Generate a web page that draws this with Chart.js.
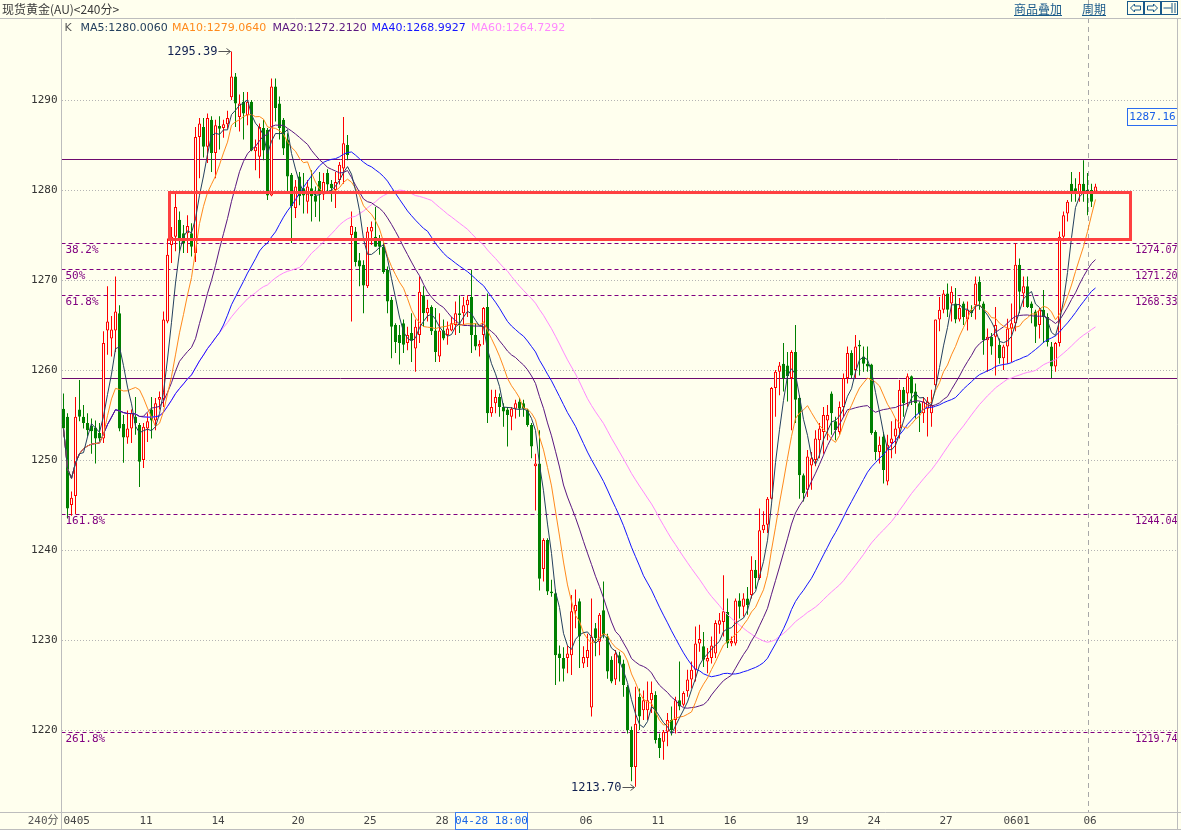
<!DOCTYPE html>
<html>
<head>
<meta charset="utf-8">
<script src="https://cdn.jsdelivr.net/npm/chart.js@4.4.1/dist/chart.umd.min.js"></script>
<style>
  html, body { margin: 0; padding: 0; background: #ffffee; overflow: hidden; }
  canvas { display: block; }
</style>
</head>
<body>
<canvas id="kline" width="1181" height="830"></canvas>
<script>
// 240分 K线, 每根 [开, 高, 低, 收]
const candles = [
  [1255.7,1257.4,1252.6,1253.5],[1254.8,1255.2,1243.5,1244.6],[1245.0,1246.5,1243.8,1245.8],[1246.0,1257.0,1244.0,1254.8],
  [1255.6,1258.9,1254.3,1254.8],[1254.8,1256.1,1253.5,1254.1],[1254.1,1255.2,1252.6,1253.3],[1253.8,1254.6,1250.7,1253.2],
  [1253.6,1254.4,1249.6,1252.4],[1253.0,1254.1,1252.0,1252.4],[1252.4,1264.3,1251.9,1263.0],[1264.4,1269.3,1261.7,1265.4],
  [1263.5,1266.0,1261.5,1264.5],[1264.4,1270.4,1262.0,1266.5],[1266.3,1267.2,1253.2,1253.5],[1254.0,1255.0,1249.7,1252.5],
  [1252.5,1255.5,1251.8,1253.5],[1253.5,1255.6,1251.9,1255.2],[1254.8,1257.0,1252.8,1254.1],[1253.9,1254.1,1247.0,1249.8],
  [1250.0,1254.1,1249.1,1253.7],[1253.5,1255.2,1252.0,1254.3],[1255.6,1257.0,1252.4,1254.4],[1254.4,1256.9,1253.3,1256.3],
  [1256.7,1257.6,1255.6,1257.0],[1256.8,1266.5,1255.9,1265.6],[1265.4,1274.6,1265.2,1272.8],[1273.9,1275.9,1271.9,1274.8],
  [1274.8,1279.8,1273.2,1278.1],[1276.7,1277.6,1273.0,1274.3],[1275.2,1276.1,1273.0,1274.1],[1275.2,1277.2,1273.0,1276.0],
  [1275.2,1276.3,1272.6,1273.7],[1273.0,1287.0,1272.0,1285.9],[1285.9,1288.0,1281.3,1287.4],[1287.0,1288.0,1283.6,1284.8],
  [1284.8,1288.5,1283.0,1288.0],[1287.8,1288.2,1282.0,1284.1],[1284.1,1287.8,1281.3,1287.2],[1287.1,1288.2,1284.5,1286.8],
  [1286.9,1287.8,1285.8,1287.3],[1287.3,1288.8,1286.8,1288.0],[1290.3,1295.39,1290.0,1292.6],[1292.6,1293.0,1287.0,1289.6],
  [1288.1,1290.6,1286.5,1289.6],[1289.8,1290.9,1285.6,1288.5],[1288.3,1290.9,1287.2,1289.8],[1289.8,1290.0,1284.3,1284.4],
  [1284.3,1285.6,1282.2,1284.8],[1283.7,1287.4,1281.3,1287.0],[1286.9,1287.8,1283.3,1284.4],[1286.7,1286.9,1278.9,1279.4],
  [1279.4,1292.4,1279.3,1291.5],[1291.5,1292.4,1287.6,1289.1],[1289.6,1290.4,1285.6,1286.9],[1287.8,1288.0,1283.9,1284.6],
  [1285.6,1286.3,1279.8,1281.5],[1281.7,1281.9,1274.1,1278.2],[1278.0,1281.1,1276.9,1280.4],[1281.5,1282.0,1278.3,1279.3],
  [1280.2,1281.9,1277.4,1279.4],[1278.7,1281.1,1277.4,1280.4],[1280.2,1282.2,1276.5,1279.3],[1279.4,1280.4,1277.0,1278.7],
  [1281.0,1282.0,1276.5,1279.5],[1279.5,1281.9,1278.9,1280.9],[1281.9,1282.3,1279.6,1280.6],[1280.7,1281.1,1278.7,1280.2],
  [1280.0,1282.0,1278.0,1280.9],[1281.1,1283.1,1280.6,1282.8],[1282.4,1288.1,1280.7,1285.2],[1285.0,1286.1,1283.3,1283.9],
  [1275.0,1277.6,1265.4,1276.0],[1275.4,1275.9,1271.5,1272.0],[1272.2,1273.0,1269.3,1271.5],[1271.7,1272.2,1266.3,1269.4],
  [1269.3,1275.9,1269.1,1275.4],[1275.4,1276.5,1273.9,1275.9],[1274.8,1278.1,1273.7,1273.7],[1274.4,1275.0,1272.8,1273.7],
  [1273.7,1274.1,1270.7,1270.9],[1271.1,1271.5,1266.3,1267.6],[1267.8,1268.1,1261.3,1264.8],[1265.0,1265.2,1261.9,1263.1],
  [1263.9,1265.0,1260.6,1263.0],[1265.2,1265.6,1261.9,1262.8],[1263.0,1264.8,1262.2,1263.9],[1264.1,1266.3,1260.9,1263.3],
  [1262.4,1265.6,1259.8,1264.8],[1263.9,1270.4,1263.0,1268.7],[1268.3,1269.3,1264.8,1266.3],[1266.3,1267.8,1265.4,1266.9],
  [1267.0,1267.2,1263.9,1264.3],[1264.4,1266.9,1260.9,1262.0],[1261.5,1266.3,1260.9,1264.4],[1264.4,1265.6,1263.3,1263.5],
  [1263.9,1265.4,1262.8,1264.6],[1264.4,1265.9,1264.3,1265.2],[1265.0,1267.6,1263.9,1266.3],[1266.3,1268.3,1264.1,1266.1],
  [1266.3,1268.1,1265.0,1267.2],[1267.2,1268.3,1265.9,1267.8],[1268.1,1271.1,1261.9,1263.9],[1263.9,1265.2,1262.2,1262.6],
  [1262.6,1263.3,1261.5,1262.9],[1263.9,1267.0,1262.8,1266.9],[1267.0,1268.5,1254.1,1255.2],[1255.2,1257.8,1254.8,1255.9],
  [1256.3,1257.8,1255.2,1257.0],[1257.0,1257.4,1254.8,1255.9],[1255.9,1256.3,1253.7,1255.4],[1255.6,1255.9,1251.5,1255.0],
  [1254.8,1255.9,1253.3,1255.7],[1255.7,1256.7,1254.6,1256.3],[1256.5,1256.9,1254.8,1255.7],[1256.3,1256.7,1254.8,1255.7],
  [1255.6,1255.7,1253.7,1253.9],[1253.9,1254.1,1250.2,1251.5],[1249.3,1250.7,1244.4,1249.6],[1249.6,1253.3,1235.5,1236.8],
  [1237.9,1241.3,1236.5,1241.1],[1241.1,1241.3,1235.0,1235.4],[1235.4,1236.7,1234.8,1235.2],[1235.2,1235.6,1225.0,1228.3],
  [1228.5,1229.4,1225.4,1228.0],[1228.0,1229.2,1225.4,1226.8],[1228.0,1229.4,1226.3,1228.5],[1228.3,1235.0,1226.1,1233.2],
  [1233.2,1235.6,1231.3,1233.9],[1234.3,1234.6,1226.9,1230.4],[1227.4,1229.3,1226.9,1228.1],[1228.0,1230.7,1227.0,1228.9],
  [1222.5,1234.6,1221.5,1230.4],[1231.3,1231.9,1228.2,1230.2],[1229.8,1233.0,1228.3,1232.8],[1233.3,1236.5,1230.2,1230.6],
  [1230.4,1230.7,1225.7,1226.5],[1227.8,1228.2,1225.2,1225.4],[1225.6,1228.9,1225.0,1228.5],[1228.3,1228.7,1225.4,1227.4],
  [1227.4,1227.8,1223.7,1225.0],[1224.8,1225.0,1219.6,1220.0],[1220.0,1220.4,1214.3,1215.9],[1215.9,1224.8,1213.7,1220.7],
  [1223.7,1224.6,1220.0,1221.5],[1222.2,1224.4,1221.1,1223.3],[1222.2,1225.4,1221.1,1223.3],[1223.3,1225.4,1221.9,1224.1],
  [1223.9,1224.3,1218.5,1218.9],[1219.1,1219.6,1216.9,1218.0],[1218.7,1220.0,1216.7,1219.8],[1219.8,1221.9,1218.2,1221.1],
  [1221.1,1222.6,1219.4,1220.0],[1221.1,1223.7,1219.6,1223.3],[1223.3,1227.6,1222.2,1222.6],[1222.8,1224.3,1222.6,1224.1],
  [1224.3,1226.7,1223.7,1225.6],[1225.6,1227.6,1224.6,1226.7],[1226.7,1231.5,1225.4,1229.6],[1229.6,1231.7,1228.7,1230.1],
  [1229.3,1230.9,1227.0,1227.8],[1227.6,1229.1,1226.3,1228.0],[1228.0,1230.4,1227.4,1229.4],[1228.5,1232.2,1228.0,1231.9],
  [1231.7,1233.0,1230.7,1232.2],[1232.0,1237.2,1230.4,1233.2],[1233.1,1234.6,1229.1,1229.6],[1229.6,1230.4,1229.3,1229.9],
  [1229.6,1234.6,1229.4,1234.4],[1234.4,1235.2,1232.4,1233.7],[1233.7,1235.2,1232.6,1234.6],[1234.6,1235.9,1232.8,1233.9],
  [1235.0,1239.3,1234.6,1237.8],[1237.8,1238.9,1235.7,1236.9],[1236.9,1244.6,1236.7,1242.2],[1242.2,1244.3,1241.9,1242.8],
  [1242.8,1245.9,1241.9,1245.7],[1245.7,1258.1,1245.6,1258.0],[1258.0,1260.0,1254.8,1259.8],[1259.8,1260.9,1257.2,1260.5],
  [1260.7,1263.0,1257.6,1259.1],[1260.5,1262.0,1256.5,1259.3],[1259.1,1262.2,1253.3,1262.0],[1262.0,1265.0,1254.1,1256.7],
  [1256.9,1257.2,1245.7,1248.3],[1248.3,1248.5,1245.4,1246.3],[1246.7,1251.1,1245.9,1250.4],[1249.4,1250.9,1246.7,1250.2],
  [1250.0,1253.3,1249.3,1252.4],[1252.2,1254.1,1250.2,1253.5],[1253.1,1255.9,1250.7,1255.0],[1254.4,1256.1,1252.2,1255.0],
  [1257.4,1257.6,1252.8,1255.2],[1254.3,1254.8,1252.2,1253.3],[1253.1,1256.5,1252.8,1255.9],[1255.9,1259.6,1254.8,1259.1],
  [1259.1,1262.6,1258.5,1261.9],[1261.9,1262.2,1259.1,1259.4],[1260.0,1263.9,1259.1,1262.6],[1262.8,1263.3,1259.4,1262.6],
  [1261.5,1262.6,1259.8,1260.7],[1260.7,1262.6,1259.8,1260.4],[1260.6,1260.7,1252.8,1253.0],[1253.1,1253.3,1250.0,1250.9],
  [1250.9,1252.6,1249.6,1251.7],[1252.6,1253.1,1247.4,1248.9],[1247.6,1252.8,1247.2,1251.7],[1251.9,1254.3,1250.2,1252.4],
  [1252.6,1254.6,1250.7,1253.5],[1253.5,1258.9,1252.4,1257.8],[1257.8,1258.1,1254.8,1256.3],[1257.4,1259.6,1255.9,1259.3],
  [1259.3,1259.4,1256.1,1257.4],[1257.6,1258.5,1254.6,1256.3],[1256.3,1256.5,1253.1,1255.2],[1255.2,1257.0,1254.1,1256.5],
  [1255.7,1257.0,1252.6,1256.5],[1255.2,1257.8,1253.7,1256.1],[1258.3,1265.6,1258.1,1265.6],[1265.6,1268.1,1264.3,1266.7],
  [1266.7,1268.9,1266.3,1268.5],[1268.5,1269.6,1265.9,1266.7],[1267.4,1269.3,1265.4,1268.7],[1267.4,1269.1,1265.2,1265.6],
  [1265.6,1268.0,1265.4,1266.9],[1267.4,1267.6,1265.0,1265.9],[1265.6,1267.6,1264.4,1266.7],[1266.7,1267.2,1265.9,1266.3],
  [1267.2,1270.4,1265.6,1269.6],[1269.8,1270.4,1266.7,1267.6],[1267.4,1267.6,1261.7,1263.3],[1263.3,1264.6,1259.8,1263.7],
  [1263.7,1264.1,1261.7,1262.6],[1263.7,1267.0,1259.4,1265.0],[1262.8,1263.5,1260.7,1261.3],[1261.3,1262.8,1260.0,1262.6],
  [1262.6,1265.7,1260.7,1264.6],[1264.6,1267.4,1260.9,1265.2],[1265.2,1274.1,1264.3,1271.7],[1271.7,1272.4,1266.3,1268.7],
  [1268.5,1270.4,1267.0,1269.3],[1269.3,1270.4,1266.9,1267.0],[1267.4,1267.6,1265.2,1266.9],[1266.5,1266.7,1263.0,1264.8],
  [1265.0,1266.9,1263.5,1266.7],[1266.7,1268.9,1263.0,1265.9],[1265.9,1266.3,1262.6,1263.1],[1262.6,1263.1,1259.1,1260.4],
  [1260.4,1263.1,1259.8,1263.0],[1263.0,1275.4,1262.6,1274.8],[1274.8,1277.6,1274.3,1277.2],[1277.4,1278.9,1276.5,1278.7],
  [1280.7,1282.0,1278.7,1279.8],[1280.2,1281.3,1278.7,1279.8],[1279.6,1282.0,1278.7,1280.7],[1280.7,1283.3,1278.7,1279.6],
  [1280.0,1281.9,1277.2,1279.8],[1280.0,1280.7,1278.1,1278.7],[1279.8,1280.7,1279.6,1280.4]
];

// 横轴: 共 279 个位置, 日期标签所在位置
const slotCount = 279;
const dayTickIdx  = [0, 19, 37, 57, 75, 93, 129, 147, 165, 183, 201, 219, 235, 255];
const dayTickText = ['0405', '11', '14', '20', '25', '28', '06', '11', '16', '19', '24', '27', '0601', '06'];

// 均线
const maPeriods = [5, 10, 20, 40, 60];
const maNames   = ['MA5', 'MA10', 'MA20', 'MA40', 'MA60'];
const maLast    = ['1280.0060', '1279.0640', '1272.2120', '1268.9927', '1264.7292'];
const maColors  = ['#24405e', '#ff8a1c', '#5a1780', '#1414ff', '#ff88ff'];

// 黄金分割线
const fibLevels = [1274.07, 1271.20, 1268.33, 1244.04, 1219.74];
const fibNames  = ['38.2%', '50%', '61.8%', '161.8%', '261.8%'];
const fibText   = ['1274.07', '1271.20', '1268.33', '1244.04', '1219.74'];
// 水平线
const levelLines = [1283.4, 1259.1];
// 红框 (索引范围, 价格范围)
const boxIdx = [26.5, 266.75];
const boxPrice = [1279.72, 1274.5];
// 最高/最低标注
const hiMark = { idx: 42, val: 1295.39, text: '1295.39' };
const loMark = { idx: 143, val: 1213.70, text: '1213.70' };
const cursorIdx = 256;
const cursorPrice = 1287.16;

const BG = '#ffffee';
const UP = '#ff0000';
const DOWN = '#008000';

const closes = candles.map((d) => d[3]);
const labels = Array.from({ length: slotCount }, () => '');
dayTickIdx.forEach((i, k) => (labels[i] = dayTickText[k]));

function movingAvg(n) {
  return closes.map((_, i) => {
    const s = Math.max(0, i - n + 1);
    let t = 0;
    for (let k = s; k <= i; k++) t += closes[k];
    return t / (i - s + 1);
  });
}

const isUp = candles.map((d) => d[3] >= d[0]);
const bodies = candles.map(([o, h, l, c]) => {
  let lo = Math.min(o, c), hi = Math.max(o, c);
  if (hi - lo < 0.12) { const m = (hi + lo) / 2; lo = m - 0.06; hi = m + 0.06; }
  return [lo, hi];
});
const wicks = candles.map(([o, h, l, c]) => [l, h]);

const maSets = maPeriods.map((n, k) => ({
  type: 'line',
  label: maNames[k],
  data: movingAvg(n),
  borderColor: maColors[k],
  borderWidth: 1,
  pointRadius: 0,
  tension: 0,
  fill: false,
  order: 0,
}));

const mono = 'DejaVu Sans Mono, monospace';

const deco = {
  id: 'deco',
  beforeDraw(ch) {
    const c = ch.ctx;
    c.save();
    c.fillStyle = BG;
    c.fillRect(0, 0, ch.width, ch.height);
    c.restore();
  },
  beforeDatasetsDraw(ch) {
    const { ctx: c, chartArea: a, scales: { x, y } } = ch;
    c.save();
    c.lineWidth = 1;
    // 水平线
    c.strokeStyle = '#6e0a6e';
    levelLines.forEach((v) => {
      const py = Math.round(y.getPixelForValue(v)) + 0.5;
      c.beginPath(); c.moveTo(a.left, py); c.lineTo(a.right, py); c.stroke();
    });
    // 黄金分割
    c.strokeStyle = '#800080';
    c.setLineDash([4, 3]);
    fibLevels.forEach((v) => {
      const py = Math.round(y.getPixelForValue(v)) + 0.5;
      c.beginPath(); c.moveTo(a.left, py); c.lineTo(a.right, py); c.stroke();
    });
    // 光标竖线
    c.strokeStyle = '#a8a8a8';
    c.setLineDash([5, 4]);
    const vx = Math.round(x.getPixelForValue(cursorIdx)) + 0.5;
    c.beginPath(); c.moveTo(vx, 0); c.lineTo(vx, a.bottom); c.stroke();
    c.restore();
  },
  afterDraw(ch) {
    const { ctx: c, chartArea: a, scales: { x, y } } = ch;
    c.save();
    // 红框
    c.strokeStyle = '#ff4040';
    c.lineWidth = 3;
    const bx0 = x.getPixelForValue(boxIdx[0]), bx1 = x.getPixelForValue(boxIdx[1]);
    const by0 = y.getPixelForValue(boxPrice[0]), by1 = y.getPixelForValue(boxPrice[1]);
    c.strokeRect(bx0, by0, bx1 - bx0, by1 - by0);

    // 分割线文字
    c.fillStyle = '#800080';
    c.textBaseline = 'top';
    fibLevels.forEach((v, k) => {
      const py = Math.round(y.getPixelForValue(v));
      c.font = '11px ' + mono;
      c.textAlign = 'left';
      c.fillText(fibNames[k], a.left + 4, py + 2);
      c.font = '10px ' + mono;
      c.textAlign = 'right';
      c.fillText(fibText[k], a.right, py + 2);
    });

    // 最高/最低
    c.font = '12px ' + mono;
    c.textBaseline = 'middle';
    [hiMark, loMark].forEach((m) => {
      const px = x.getPixelForValue(m.idx);
      const py = Math.round(y.getPixelForValue(m.val)) + 0.5;
      c.strokeStyle = '#555';
      c.lineWidth = 1;
      c.beginPath(); c.moveTo(px - 13, py); c.lineTo(px - 1, py); c.stroke();
      c.beginPath(); c.moveTo(px - 5, py - 3); c.lineTo(px - 1, py); c.lineTo(px - 5, py + 3); c.stroke();
      c.fillStyle = '#102050';
      c.textAlign = 'right';
      c.fillText(m.text, px - 14, py);
    });

    // 光标价格框
    const cy = Math.round(y.getPixelForValue(cursorPrice));
    c.fillStyle = BG;
    c.fillRect(1127.5, cy - 17.5, 50, 17);
    c.strokeStyle = '#2a6cf0';
    c.lineWidth = 1;
    c.strokeRect(1127.5, cy - 17.5, 50, 17);
    c.fillStyle = '#1a60e8';
    c.font = '11px ' + mono;
    c.textAlign = 'center';
    c.fillText(cursorPrice.toFixed(2), 1152.5, cy - 8.5);

    // 边框
    c.strokeStyle = '#bdbdbd';
    c.beginPath();
    c.moveTo(0, 18.5); c.lineTo(ch.width, 18.5);
    c.moveTo(a.left, 18.5); c.lineTo(a.left, ch.height);
    c.moveTo(0, a.bottom + 0.5); c.lineTo(ch.width, a.bottom + 0.5);
    c.moveTo(0, ch.height - 0.5); c.lineTo(ch.width, ch.height - 0.5);
    c.moveTo(a.right, 18.5); c.lineTo(a.right, ch.height);
    c.stroke();

    // 底部时间框
    c.fillStyle = BG;
    c.fillRect(455.5, a.bottom + 1, 72, 17);
    c.strokeStyle = '#3c7cf0';
    c.strokeRect(455.5, a.bottom + 0.5, 72, 17);
    c.fillStyle = '#1a66e6';
    c.textAlign = 'center';
    c.fillText('04-28 18:00', 491.5, a.bottom + 9.5);

    c.fillStyle = '#555';
    c.textAlign = 'right';
    c.font = '11px DejaVu Sans Mono, Noto Sans CJK SC, monospace';
    c.fillText('240分', a.left - 3, a.bottom + 9.5);

    // 标题
    c.textAlign = 'left';
    c.fillStyle = '#3a3a3a';
    c.font = '12px Noto Sans CJK SC, sans-serif';
    c.fillText('现货黄金(AU)<240分>', 2, 9);

    // 均线说明
    c.font = '11px DejaVu Sans, sans-serif';
    c.fillStyle = '#555';
    c.fillText('K', 64.5, 28);
    const legendX = [80.6, 172, 272.5, 371.6, 471];
    maNames.forEach((n, k) => {
      c.fillStyle = maColors[k];
      c.fillText(n + ':' + maLast[k], legendX[k], 28);
    });

    // 右上角
    c.fillStyle = '#1a5a8a';
    c.strokeStyle = '#1a5a8a';
    c.font = '12px Noto Sans CJK SC, sans-serif';
    c.fillText('商品叠加', 1014, 9);
    c.fillText('周期', 1082, 9);
    c.beginPath();
    c.moveTo(1014, 15.5); c.lineTo(1062, 15.5);
    c.moveTo(1082, 15.5); c.lineTo(1106, 15.5);
    c.stroke();
    [1127.5, 1144.5, 1161.5].forEach((bx, k) => {
      c.strokeRect(bx, 1.5, 16, 13);
      c.beginPath();
      if (k === 0) {
        c.moveTo(bx + 3, 8); c.lineTo(bx + 7, 4); c.lineTo(bx + 7, 6); c.lineTo(bx + 13, 6);
        c.lineTo(bx + 13, 10); c.lineTo(bx + 7, 10); c.lineTo(bx + 7, 12); c.closePath();
      } else if (k === 1) {
        c.moveTo(bx + 13, 8); c.lineTo(bx + 9, 4); c.lineTo(bx + 9, 6); c.lineTo(bx + 3, 6);
        c.lineTo(bx + 3, 10); c.lineTo(bx + 9, 10); c.lineTo(bx + 9, 12); c.closePath();
      } else {
        c.moveTo(bx + 2, 8); c.lineTo(bx + 10, 8);
        c.moveTo(bx + 10.5, 3); c.lineTo(bx + 10.5, 13);
        c.moveTo(bx + 13.5, 3); c.lineTo(bx + 13.5, 13);
      }
      c.stroke();
    });
    c.restore();
  },
};

new Chart(document.getElementById('kline'), {
  type: 'bar',
  data: {
    labels,
    datasets: [
      ...maSets,
      {
        label: 'body',
        data: bodies,
        backgroundColor: isUp.map((u) => (u ? BG : DOWN)),
        borderColor: isUp.map((u) => (u ? UP : DOWN)),
        borderWidth: 1,
        borderSkipped: false,
        barThickness: 3,
        grouped: false,
        inflateAmount: 0,
        order: 1,
      },
      {
        label: 'wick',
        data: wicks,
        backgroundColor: isUp.map((u) => (u ? UP : DOWN)),
        borderWidth: 0,
        barThickness: 1,
        grouped: false,
        inflateAmount: 0,
        order: 2,
      },
    ],
  },
  options: {
    responsive: false,
    animation: false,
    events: [],
    layout: { padding: { left: 0, top: 19, right: 3.5, bottom: 0 } },
    plugins: { legend: { display: false }, tooltip: { enabled: false } },
    scales: {
      x: {
        offset: true,
        afterFit(s) { s.height = 18; },
        grid: { display: false, drawTicks: false },
        border: { display: false },
        ticks: {
          autoSkip: false, maxRotation: 0, minRotation: 0, align: 'start', padding: 3,
          color: '#444', font: { family: mono, size: 11 },
        },
      },
      y: {
        min: 1210.889,
        max: 1299,
        afterFit(s) { s.width = 61.5; },
        ticks: {
          stepSize: 10, includeBounds: false, padding: 4,
          color: '#333', font: { family: mono, size: 11 },
          callback: (v) => String(v),
        },
        grid: { color: '#b4b4b4', drawTicks: false, lineWidth: 1 },
        border: { display: false, dash: [1, 2] },
      },
    },
  },
  plugins: [deco],
});
</script>
</body>
</html>
